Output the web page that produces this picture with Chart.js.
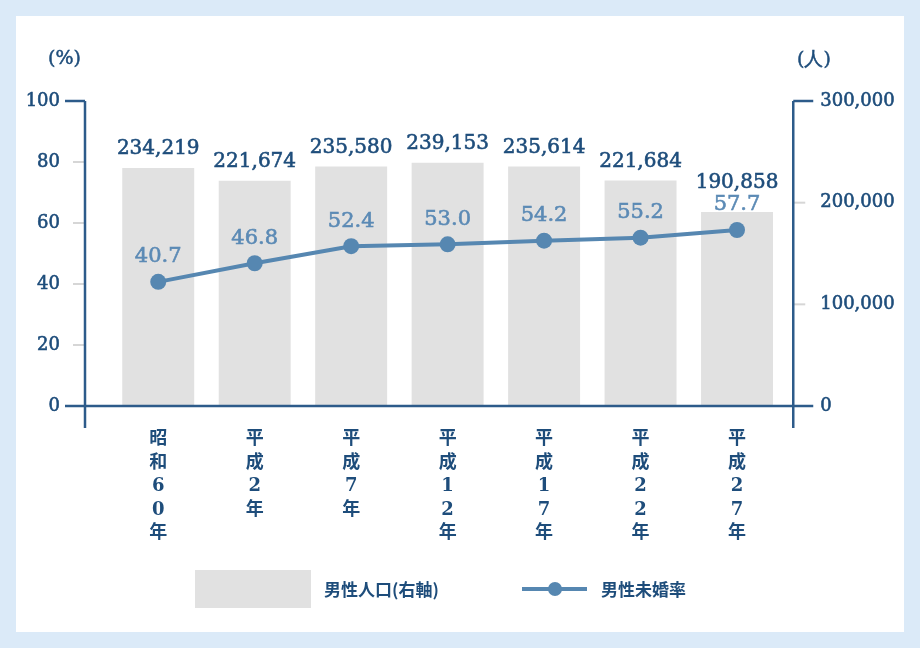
<!DOCTYPE html>
<html lang="ja">
<head>
<meta charset="utf-8">
<script src="https://cdn.jsdelivr.net/npm/chart.js@4.4.1/dist/chart.umd.min.js"></script>
<style>
  html, body { margin: 0; padding: 0; }
  body { width: 920px; height: 648px; background: #dbeaf8; position: relative; overflow: hidden; }
  .panel { position: absolute; left: 16px; top: 16px; width: 888px; height: 616px; background: #fff; }
  .wrap { position: absolute; left: 0; top: 0; width: 920px; height: 648px; }
  .unit { position: absolute; top: 46px; font: 19px "DejaVu Serif", serif; color: #1e4d7b; -webkit-text-stroke: 0.5px #1e4d7b; }
  .legend { position: absolute; top: 570px; left: 0; width: 920px; height: 40px; font: bold 17px "Noto Sans CJK JP", sans-serif; color: #1e4d7b; }
  .legend .box { position: absolute; left: 195px; top: 0; width: 116px; height: 38px; background: #e1e1e1; }
  .legend .txt { position: absolute; top: 8px; line-height: 22px; }
  .legend .ln { position: absolute; left: 522px; top: 17px; width: 65px; height: 4px; background: #5687b1; }
  .legend .dot { position: absolute; left: 548px; top: 12px; width: 14px; height: 14px; border-radius: 50%; background: #5687b1; }
</style>
</head>
<body>
<div class="panel"></div>
<div class="wrap"><canvas id="chart"></canvas></div>
<div class="unit" style="left:48px">(%)</div>
<div class="unit" style="left:797px">(人)</div>
<div class="legend">
  <div class="box"></div><div class="txt" style="left:324px">男性人口(右軸)</div>
  <div class="ln"></div><div class="dot"></div><div class="txt" style="left:601px">男性未婚率</div>
</div>
<script>
const years = ["昭和60年", "平成2年", "平成7年", "平成12年", "平成17年", "平成22年", "平成27年"];
const population = [234219, 221674, 235580, 239153, 235614, 221684, 190858];
const unmarriedRate = [40.7, 46.8, 52.4, 53.0, 54.2, 55.2, 57.7];
const rateTicks = [0, 20, 40, 60, 80, 100];
const popTicks = [0, 100000, 200000, 300000];

const navy = "#1e4d7b";
const axisBlue = "#2d5b8a";
const lineBlue = "#5687b1";
const barGray = "#e1e1e1";
const tickGray = "#d6d6d6";
const serif = "'DejaVu Serif', serif";

// axis lines sit a little outside the category area, like the original
const axisDecor = {
  id: "axisDecor",
  afterDatasetsDraw(chart) {
    const { ctx, chartArea } = chart;
    const yl = chart.scales.y, yr = chart.scales.y2;
    const lx = chartArea.left - 25, rx = chartArea.right + 8;
    const y0 = yl.getPixelForValue(0), yTop = yl.getPixelForValue(100);
    const seg = (x1, y1, x2, y2) => { ctx.beginPath(); ctx.moveTo(x1, y1); ctx.lineTo(x2, y2); ctx.stroke(); };
    ctx.save();
    ctx.lineWidth = 2;
    ctx.strokeStyle = tickGray;
    yl.ticks.forEach(t => {
      if (t.value > 0 && t.value < 100) { const y = yl.getPixelForValue(t.value); seg(lx - 12, y, lx, y); }
    });
    yr.ticks.forEach(t => {
      if (t.value > 0 && t.value < 300000) { const y = yr.getPixelForValue(t.value); seg(rx, y, rx + 12, y); }
    });
    ctx.strokeStyle = axisBlue;
    ctx.lineWidth = 2.5;
    seg(lx, yTop, lx, y0 + 22);
    seg(lx - 20, yTop, lx, yTop);
    seg(rx, yTop, rx, y0 + 22);
    seg(rx, yTop, rx + 20, yTop);
    seg(lx - 20, y0, rx + 20, y0);
    ctx.restore();
  }
};

const valueLabels = {
  id: "valueLabels",
  afterDraw(chart) {
    const { ctx } = chart;
    const pts = chart.getDatasetMeta(0).data;
    const put = (txt, x, y) => { ctx.strokeText(txt, x, y); ctx.fillText(txt, x, y); };
    ctx.save();
    ctx.textAlign = "center";
    ctx.textBaseline = "middle";
    ctx.lineWidth = 0.6;
    ctx.font = "20px " + serif;
    ctx.fillStyle = ctx.strokeStyle = navy;
    chart.getDatasetMeta(1).data.forEach((bar, i) => {
      // keep the population label clear of the rate label below it
      put(population[i].toLocaleString("en-US"), bar.x, Math.min(bar.y - 19, pts[i].y - 47));
    });
    ctx.font = "21px " + serif;
    ctx.fillStyle = ctx.strokeStyle = "#5b8ab5";
    pts.forEach((pt, i) => {
      put(unmarriedRate[i].toFixed(1), pt.x, pt.y - 25);
    });
    ctx.restore();
  }
};

new Chart(document.getElementById("chart"), {
  type: "bar",
  data: {
    labels: years,
    datasets: [
      {
        type: "line",
        label: "男性未婚率",
        data: unmarriedRate,
        yAxisID: "y",
        borderColor: lineBlue,
        backgroundColor: lineBlue,
        borderWidth: 4,
        pointRadius: 8,
        pointBackgroundColor: lineBlue,
        pointBorderWidth: 0,
        tension: 0,
        order: 1
      },
      {
        label: "男性人口(右軸)",
        data: population,
        yAxisID: "y2",
        backgroundColor: barGray,
        categoryPercentage: 1,
        barPercentage: 0.746,
        order: 2
      }
    ]
  },
  options: {
    responsive: true,
    maintainAspectRatio: false,
    animation: false,
    layout: { padding: { top: 101, left: 0, right: 0, bottom: 0 } },
    plugins: {
      legend: { display: false },
      tooltip: { enabled: false }
    },
    scales: {
      x: {
        offset: true,
        grid: { display: false, drawTicks: false },
        border: { display: false },
        ticks: {
          color: navy,
          font: { size: 18, family: "'DejaVu Serif', 'Noto Sans CJK JP', sans-serif", weight: "bold", lineHeight: 1.3 },
          padding: 22,
          maxRotation: 0,
          autoSkip: false,
          callback: function (value) { return this.getLabelForValue(value).split(""); }
        },
        afterFit: s => { s.height = 242; }
      },
      y: {
        position: "left",
        min: 0,
        max: 100,
        afterBuildTicks: s => { s.ticks = rateTicks.map(v => ({ value: v })); },
        grid: { display: false, drawTicks: false },
        border: { display: false },
        ticks: { color: navy, textStrokeColor: navy, textStrokeWidth: 0.6, font: { size: 18, family: serif }, padding: 50 },
        afterFit: s => { s.width = 110; }
      },
      y2: {
        position: "right",
        min: 0,
        max: 300000,
        afterBuildTicks: s => { s.ticks = popTicks.map(v => ({ value: v })); },
        grid: { display: false, drawTicks: false },
        border: { display: false },
        ticks: {
          color: navy,
          textStrokeColor: navy,
          textStrokeWidth: 0.6,
          font: { size: 18, family: serif },
          padding: 35,
          callback: v => v.toLocaleString("en-US")
        },
        afterFit: s => { s.width = 134.75; }
      }
    }
  },
  plugins: [axisDecor, valueLabels]
});
</script>
</body>
</html>
